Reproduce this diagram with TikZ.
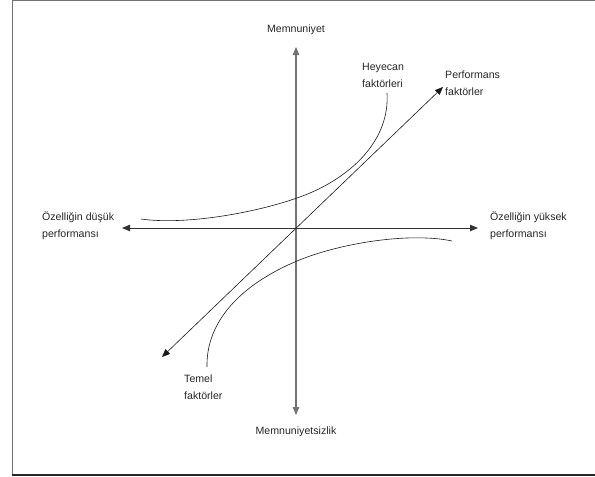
\documentclass[tikz,border=0pt]{standalone}
\usepackage{fontspec}
\setmainfont{Liberation Sans}
\usetikzlibrary{arrows.meta}
\begin{document}
\begin{tikzpicture}[x=1pt,y=-1pt,
  lbl/.style={inner sep=0pt, align=left, font=\fontsize{10.6}{17}\selectfont, text=black!85},
  clbl/.style={inner sep=0pt, align=center, font=\fontsize{10.6}{17}\selectfont, text=black!85},
  tip/.style={-{Triangle[length=8pt,width=6.5pt]}},
  vaxis/.style={draw=black!55, line width=1.1pt},
  haxis/.style={draw=black!80, line width=0.9pt},
  curve/.style={draw=black!90, line width=0.6pt},
  framel/.style={draw=black!55, line width=1pt}]
\useasboundingbox (0,0) rectangle (595,477);
% frame
\draw[framel] (12,476) -- (12,0.5) -- (600,0.5);
\draw[draw=black!85, line width=1.2pt] (12,475) -- (600,475);
% axis coordinates
\coordinate (o) at (296,228);
\coordinate (top) at (296,47);
\coordinate (bot) at (296,415);
\coordinate (lft) at (122,228);
\coordinate (rgt) at (478,228);
\coordinate (dlo) at (162,357);
\coordinate (dhi) at (443,87);
% labels
\node[clbl] (memn) at (296,30) {Memnuniyet};
\node[clbl] (memsiz) at (296,432) {Memnuniyetsizlik};
\node[lbl, anchor=west] (dusuk) at (42,226) {Özelliğin düşük\\performansı};
\node[lbl, anchor=west] (yuksek) at (490,226) {Özelliğin yüksek\\performansı};
\node[lbl, anchor=west] (heyecan) at (362,75) {Heyecan\\faktörleri};
\node[lbl, anchor=west] (perf) at (445,83) {Performans\\faktörler};
\node[lbl, anchor=west] (temel) at (184,387) {Temel\\faktörler};
% axes
\draw[vaxis, tip] (o) -- (top);
\draw[vaxis, tip] (o) -- (bot);
\draw[haxis, tip] (o) -- (lft);
\draw[haxis, tip] (o) -- (rgt);
% diagonal
\draw[curve, {Triangle[length=8pt,width=6.5pt]}-{Triangle[length=8pt,width=6.5pt]}] (dlo) -- (dhi);
% curves
\coordinate (h0) at (141,219);
\coordinate (hm) at (310,193);
\coordinate (h1) at (387,93);
\draw[curve] (h0) .. controls (190,226) and (270,210) .. (hm) .. controls (352,175) and (390,140) .. (h1);
\coordinate (t0) at (207,367);
\coordinate (tm) at (297,261);
\coordinate (t1) at (452,241);
\draw[curve] (t0) .. controls (206,322) and (240,285) .. (tm) .. controls (340,243) and (410,232) .. (t1);
\end{tikzpicture}
\end{document}
